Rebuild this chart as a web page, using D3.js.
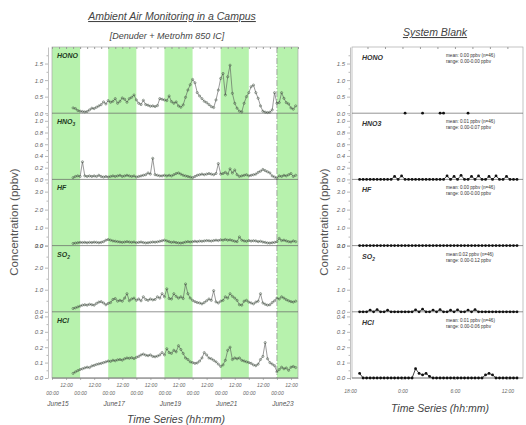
<!DOCTYPE html>
<html>
<head>
<meta charset="utf-8">
<script src="https://cdn.jsdelivr.net/npm/d3@7"></script>
<style>
  body { margin: 0; background: #fff; }
  svg { font-family: 'Liberation Sans', Arial, sans-serif; }
</style>
</head>
<body>
<svg></svg>
<script>
// species shown in the five stacked panels
const speciesAmbLabels = [['HONO', ''], ['HNO', '3'], ['HF', ''], ['SO', '2'], ['HCl', '']];
const speciesBlankLabels = [['HONO', ''], ['HNO3', ''], ['HF', ''], ['SO', '2'], ['HCl', '']];
const yMaxValues = [2.0, 1.13, 3.68, 3.0, 0.43];
const yTickValues = [
	[0, 0.5, 1.0, 1.5],
	[0, 0.2, 0.4, 0.6, 0.8, 1.0],
	[0, 1, 2, 3],
	[0, 1, 2, 3],
	[0, 0.1, 0.2, 0.3, 0.4]
];

// ambient series: June 15 18:00 onward, one value every 2 h (rows = 1 day)
const ambStart = Date.UTC(2014, 5, 15, 18);
const ambStepHours = 2;
const honoAmb = [
	0.16, 0.14, 0.08, 0.06, 0.05, 0.04, 0.05, 0.10, 0.15, 0.14, 0.18, 0.22,
	0.26, 0.34, 0.28, 0.38, 0.33, 0.36, 0.44, 0.30, 0.36, 0.46, 0.42, 0.33,
	0.44, 0.48, 0.55, 0.40, 0.30, 0.26, 0.39, 0.26, 0.24, 0.21, 0.22, 0.20,
	0.23, 0.44, 0.42, 0.40, 0.38, 0.52, 0.35, 0.30, 0.34, 0.22, 0.18, 0.25,
	0.48, 0.70, 0.86, 1.02, 0.92, 0.62, 0.52, 0.44, 0.36, 0.32, 0.26, 0.20,
	0.17, 0.40, 0.70, 1.05, 1.20, 0.55, 1.10, 1.45, 0.60, 0.30, 0.15, 0.06,
	0.04, 0.30, 0.50, 0.62, 0.80, 0.85, 0.62, 0.45, 0.22, 0.06, 0.03, 0.02,
	0.03, 0.10, 0.62, 0.30, 0.32, 0.62, 0.45, 0.32, 0.28, 0.16, 0.12, 0.22
];
const hno3Amb = [
	0.03, 0.05, 0.06, 0.05, 0.30, 0.06, 0.05, 0.06, 0.05, 0.06, 0.05, 0.07,
	0.05, 0.04, 0.05, 0.04, 0.05, 0.06, 0.05, 0.06, 0.07, 0.05, 0.06, 0.07,
	0.06, 0.05, 0.06, 0.04, 0.05, 0.06, 0.07, 0.08, 0.11, 0.09, 0.36, 0.08,
	0.07, 0.06, 0.06, 0.07, 0.06, 0.07, 0.06, 0.08, 0.10, 0.11, 0.09, 0.07,
	0.06, 0.05, 0.04, 0.03, 0.05, 0.07, 0.08, 0.09, 0.08, 0.09, 0.10, 0.09,
	0.08, 0.10, 0.27, 0.09, 0.10, 0.12, 0.09, 0.18, 0.11, 0.16, 0.08, 0.05,
	0.06, 0.07, 0.08, 0.06, 0.07, 0.08, 0.09, 0.12, 0.14, 0.17, 0.15, 0.13,
	0.11, 0.06, 0.04, 0.02, 0.06, 0.05, 0.07, 0.06, 0.08, 0.10, 0.05, 0.07
];
const hfAmb = [
	0.12, 0.14, 0.16, 0.18, 0.17, 0.18, 0.16, 0.18, 0.17, 0.19, 0.18, 0.16,
	0.18, 0.22, 0.30, 0.34, 0.30, 0.26, 0.24, 0.22, 0.20, 0.18, 0.20, 0.22,
	0.20, 0.18, 0.20, 0.16, 0.18, 0.20, 0.17, 0.15, 0.16, 0.18, 0.20, 0.19,
	0.21, 0.24, 0.27, 0.30, 0.26, 0.22, 0.18, 0.20, 0.17, 0.15, 0.14, 0.16,
	0.20, 0.22, 0.20, 0.22, 0.24, 0.22, 0.25, 0.24, 0.26, 0.28, 0.27, 0.25,
	0.28, 0.30, 0.28, 0.32, 0.30, 0.34, 0.30, 0.32, 0.28, 0.24, 0.22, 0.48,
	0.30, 0.26, 0.24, 0.28, 0.25, 0.27, 0.26, 0.22, 0.24, 0.20, 0.18, 0.15,
	0.14, 0.16, 0.18, 0.22, 0.40, 0.28, 0.30, 0.26, 0.22, 0.20, 0.26, 0.22
];
const so2Amb = [
	0.15, 0.18, 0.22, 0.26, 0.30, 0.32, 0.30, 0.34, 0.32, 0.30, 0.38, 0.44,
	0.46, 0.40, 0.32, 0.38, 0.42, 0.56, 0.60, 0.48, 0.52, 0.48, 0.62, 0.82,
	0.50, 0.58, 0.62, 0.52, 0.58, 0.50, 0.68, 0.56, 0.52, 0.58, 0.54, 0.56,
	0.68, 0.62, 0.82, 0.68, 1.04, 0.60, 0.58, 0.82, 0.70, 0.62, 0.68, 0.60,
	1.26, 0.82, 0.62, 0.52, 0.46, 0.42, 0.40, 0.36, 0.42, 0.50, 0.58, 0.52,
	0.96, 0.45, 0.40, 0.48, 0.52, 0.68, 0.62, 0.82, 0.70, 0.62, 0.52, 0.32,
	0.30, 0.48, 0.52, 0.44, 0.40, 0.36, 0.44, 0.48, 0.82, 0.40, 0.34, 0.30,
	0.32, 0.42, 0.50, 0.62, 0.58, 0.68, 0.62, 0.55, 0.50, 0.46, 0.44, 0.48
];
const hclAmb = [
	0.030, 0.040, 0.048, 0.055, 0.060, 0.066, 0.070, 0.068, 0.078, 0.082, 0.088, 0.092,
	0.095, 0.100, 0.105, 0.110, 0.108, 0.115, 0.112, 0.118, 0.120, 0.116, 0.125, 0.130,
	0.128, 0.132, 0.126, 0.134, 0.140, 0.150, 0.155, 0.148, 0.145, 0.150, 0.140, 0.138,
	0.142, 0.150, 0.165, 0.150, 0.190, 0.165, 0.160, 0.180, 0.170, 0.210, 0.185, 0.160,
	0.130, 0.120, 0.105, 0.100, 0.095, 0.098, 0.110, 0.130, 0.165, 0.150, 0.130, 0.125,
	0.115, 0.105, 0.090, 0.075, 0.085, 0.115, 0.180, 0.200, 0.120, 0.130, 0.125, 0.130,
	0.115, 0.110, 0.105, 0.100, 0.095, 0.085, 0.080, 0.090, 0.120, 0.140, 0.230, 0.125,
	0.100, 0.090, 0.080, 0.040, 0.055, 0.070, 0.060, 0.065, 0.050, 0.070, 0.075, 0.068
];

// system blank: 46 samples from 19:06, every 24 min
const blankStartHour = 19.1;
const blankStepHours = 0.4;
const honoBlank = [
	null, null, null, null, null, null, null, null, null, null,
	null, null, null, 0, null, null, null, null, 0, null,
	null, null, null, 0, 0, null, null, null, null, null,
	null, 0, null, null, null, null, null, null, null, null,
	null, null, null, null, null, null
];
const hno3Blank = [
	0, 0, 0, 0, 0, 0, 0, 0, 0, 0,
	0.05, 0, 0.06, 0, 0, 0, 0, 0, 0, 0,
	0, 0, 0, 0, 0, 0.06, 0, 0.05, 0, 0.07,
	0, 0, 0.05, 0, 0.06, 0, 0, 0.05, 0, 0.06,
	0, 0, 0.05, 0, 0, 0
];
const hfBlank = [
	0, 0, 0, 0, 0, 0, 0, 0, 0, 0,
	0, 0, 0, 0, 0, 0, 0, 0, 0, 0,
	0, 0, 0, 0, 0, 0, 0, 0, 0, 0,
	0, 0, 0, 0, 0, 0, 0, 0, 0, 0,
	0, 0, 0, 0, 0, 0
];
const so2Blank = [
	0, 0, 0, 0.08, 0, 0.10, 0, 0, 0.07, 0,
	0, 0, 0, 0, 0, 0, 0.09, 0, 0.12, 0,
	0, 0.08, 0, 0.10, 0, 0, 0.07, 0, 0.09, 0,
	0, 0.08, 0, 0.10, 0, 0, 0, 0, 0, 0,
	0, 0, 0, 0, 0, 0
];
const hclBlank = [
	0.03, 0, 0, 0, 0, 0, 0, 0, 0, 0,
	0, 0, 0, 0, 0, 0, 0.06, 0.03, 0.02, 0.03,
	0.01, 0, 0, 0, 0, 0, 0, 0, 0, 0,
	0, 0, 0, 0, 0, 0, 0.02, 0.03, 0.02, 0,
	0, 0, 0, 0, 0, 0
];
const blankMeans = ['mean: 0.00 ppbv (n=46)', 'mean: 0.01 ppbv (n=46)', 'mean: 0.00 ppbv (n=46)', 'mean:0.02 ppbv (n=46)', 'mean: 0.01 ppbv (n=46)'];
const blankRanges = ['range: 0.00-0.00 ppbv', 'range: 0.00-0.07 ppbv', 'range: 0.00-0.00 ppbv', 'range: 0.00-0.12 ppbv', 'range: 0.00-0.06 ppbv'];

// shaded days, also the dates written under the axis
const greenDays = [15, 17, 19, 21, 23];
const breakDay = 23;
const blankTicks = [18, 24, 30, 36];

const ambSeries = [honoAmb, hno3Amb, hfAmb, so2Amb, hclAmb];
const blankSeries = [honoBlank, hno3Blank, hfBlank, so2Blank, hclBlank];

const width = 526;
const height = 425;
const plotTop = 47;
const plotBottom = 378;
const panelH = (plotBottom - plotTop) / 5;
const ambLeft = 52, ambRight = 298;
const blankLeft = 352, blankRight = 523;
const gray = '#777';

const svg = d3.select('svg')
	.attr('width', width)
	.attr('height', height);

const day = d => new Date(Date.UTC(2014, 5, d));
const xAmb = d3.scaleUtc()
	.domain([day(15), new Date(Date.UTC(2014, 5, 23, 18))])
	.range([ambLeft, ambRight]);
const xBlank = d3.scaleLinear()
	.domain([18, 37.9])
	.range([350, 524]);

const ambData = ambSeries.map(s => s.map((v, i) => ({ t: new Date(ambStart + i * ambStepHours * 3600e3), v })));
const blankData = blankSeries.map(s => s.map((v, i) => ({ t: blankStartHour + i * blankStepHours, v })));

// green day bands
svg.append('g').selectAll('rect').data(greenDays).enter()
	.append('rect')
		.attr('x', d => xAmb(day(d)))
		.attr('y', plotTop)
		.attr('width', d => Math.min(xAmb(day(d + 1)), ambRight) - xAmb(day(d)))
		.attr('height', plotBottom - plotTop)
		.attr('fill', '#b7f2ad');

// frames
svg.append('rect')
	.attr('x', ambLeft).attr('y', plotTop)
	.attr('width', ambRight - ambLeft).attr('height', plotBottom - plotTop)
	.attr('fill', 'none').attr('stroke', '#aaa').attr('stroke-width', 0.7);
svg.append('rect')
	.attr('x', blankLeft).attr('y', plotTop)
	.attr('width', blankRight - blankLeft).attr('height', plotBottom - plotTop)
	.attr('fill', 'none').attr('stroke', '#aaa').attr('stroke-width', 0.7);

// top edge minor ticks
svg.append('g')
	.attr('transform', `translate(0,${plotTop})`)
	.call(d3.axisBottom(xAmb).ticks(d3.utcHour.every(6)).tickSize(2).tickFormat(''))
	.call(g => g.select('.domain').remove())
	.call(g => g.selectAll('line').attr('stroke', '#999'));
svg.append('g')
	.attr('transform', `translate(0,${plotTop})`)
	.call(d3.axisBottom(xBlank).tickValues(d3.range(20, 38, 2)).tickSize(2).tickFormat(''))
	.call(g => g.select('.domain').remove())
	.call(g => g.selectAll('line').attr('stroke', '#999'));

// break line at June 23
svg.append('line')
	.attr('x1', xAmb(day(breakDay))).attr('x2', xAmb(day(breakDay)))
	.attr('y1', plotTop).attr('y2', plotBottom)
	.attr('stroke', '#888').attr('stroke-width', 0.7)
	.attr('stroke-dasharray', '6,2,1,2');

function formula(text, parts) {
	text.append('tspan').text(parts[0]);
	if (parts[1]) text.append('tspan').attr('font-size', '70%').attr('dy', 2).text(parts[1]);
}

function styleAxis(g) {
	g.select('.domain').attr('stroke', '#999').attr('stroke-width', 0.6);
	g.selectAll('line').attr('stroke', '#888').attr('stroke-width', 0.6);
	g.selectAll('text')
		.attr('font-size', 6)
		.attr('font-style', 'italic')
		.attr('fill', '#666')
		.attr('font-family', "'Liberation Sans', Arial, sans-serif");
}

ambData.forEach((series, i) => {
	const top = plotTop + i * panelH;
	const bottom = top + panelH;
	const y = d3.scaleLinear().domain([0, yMaxValues[i]]).range([bottom, top]);
	const step = yTickValues[i][1] - yTickValues[i][0];
	const minor = d3.range(step / 2, yMaxValues[i], step);

	[[48, true], [350, false]].forEach(([ax]) => {
		svg.append('g')
			.attr('transform', `translate(${ax},0)`)
			.call(d3.axisLeft(y).tickValues(yTickValues[i]).tickFormat(d3.format('.1f')).tickSize(3).tickSizeOuter(0).tickPadding(2))
			.call(styleAxis);
		svg.append('g')
			.attr('transform', `translate(${ax},0)`)
			.call(d3.axisLeft(y).tickValues(minor).tickFormat('').tickSize(1.5).tickSizeOuter(0))
			.call(styleAxis)
			.call(g => g.select('.domain').remove());
	});

	// zero lines
	svg.append('line')
		.attr('x1', ambLeft).attr('x2', ambRight)
		.attr('y1', y(0)).attr('y2', y(0))
		.attr('stroke', '#666').attr('stroke-width', 0.7);
	svg.append('line')
		.attr('x1', blankLeft).attr('x2', blankRight)
		.attr('y1', y(0)).attr('y2', y(0))
		.attr('stroke', '#666').attr('stroke-width', 0.7);

	// ambient trace
	const line = d3.line().x(d => xAmb(d.t)).y(d => y(d.v));
	svg.append('path')
		.datum(series)
		.attr('d', line)
		.attr('fill', 'none')
		.attr('stroke', '#555')
		.attr('stroke-width', 0.6);
	svg.append('g').selectAll('circle').data(series).enter()
		.append('circle')
			.attr('cx', d => xAmb(d.t))
			.attr('cy', d => y(d.v))
			.attr('r', 1.1)
			.attr('fill', 'none')
			.attr('stroke', '#3f4f3f')
			.attr('stroke-width', 0.5);

	// blank trace
	const blank = blankData[i];
	const bline = d3.line().defined(d => d.v !== null).x(d => xBlank(d.t)).y(d => y(d.v));
	svg.append('path')
		.datum(blank)
		.attr('d', bline)
		.attr('fill', 'none')
		.attr('stroke', '#111')
		.attr('stroke-width', 0.8);
	svg.append('g').selectAll('circle').data(blank.filter(d => d.v !== null)).enter()
		.append('circle')
			.attr('cx', d => xBlank(d.t))
			.attr('cy', d => y(d.v))
			.attr('r', 1.4)
			.attr('fill', '#111');

	// panel labels
	svg.append('text')
		.attr('x', 57).attr('y', top + 11)
		.attr('font-size', 7).attr('font-weight', 'bold').attr('font-style', 'italic')
		.attr('fill', '#1f3a1f')
		.call(formula, speciesAmbLabels[i]);
	svg.append('text')
		.attr('x', 362).attr('y', top + 13)
		.attr('font-size', 7).attr('font-weight', 'bold').attr('font-style', 'italic')
		.attr('fill', '#333')
		.call(formula, speciesBlankLabels[i]);

	svg.append('text')
		.attr('x', 446).attr('y', top + 10)
		.attr('font-size', 4.6).attr('fill', '#333')
		.text(blankMeans[i]);
	svg.append('text')
		.attr('x', 446).attr('y', top + 16)
		.attr('font-size', 4.6).attr('fill', '#333')
		.text(blankRanges[i]);
});

// ambient x axis: noon labels on one row, midnight labels below
const midnights = d3.utcDay.range(day(15), day(24));
const noons = midnights.map(d => d3.utcHour.offset(d, 12));
svg.append('g')
	.attr('transform', `translate(0,${plotBottom})`)
	.call(d3.axisBottom(xAmb).tickValues(noons).tickFormat(() => '12:00').tickSize(2).tickPadding(3).tickSizeOuter(0))
	.call(styleAxis)
	.call(g => g.selectAll('text').attr('font-size', 5));
svg.append('g')
	.attr('transform', `translate(0,${plotBottom})`)
	.call(d3.axisBottom(xAmb).tickValues(midnights).tickFormat(() => '00:00').tickSize(2).tickPadding(11).tickSizeOuter(0))
	.call(styleAxis)
	.call(g => g.select('.domain').remove())
	.call(g => g.selectAll('text').attr('font-size', 5));

svg.append('g').selectAll('text').data(greenDays).enter()
	.append('text')
		.attr('x', d => xAmb(day(d)) + 6)
		.attr('y', 406)
		.attr('text-anchor', 'middle')
		.attr('font-size', 6.5).attr('font-style', 'italic').attr('fill', '#555')
		.text(d => 'June' + d);

// blank x axis
svg.append('g')
	.attr('transform', `translate(0,${plotBottom})`)
	.call(d3.axisBottom(xBlank).tickValues(blankTicks).tickFormat(h => (h % 24) + ':00').tickSize(2).tickPadding(9).tickSizeOuter(0))
	.call(styleAxis)
	.call(g => g.select('.domain').remove())
	.call(g => g.selectAll('text').attr('font-size', 5));

// titles
const titleText = (x, y, size, txt, underline) => svg.append('text')
	.attr('x', x).attr('y', y)
	.attr('text-anchor', 'middle')
	.attr('font-size', size)
	.attr('font-style', 'italic')
	.attr('fill', '#444')
	.attr('text-decoration', underline ? 'underline' : null)
	.text(txt);

titleText(172, 20, 10.5, 'Ambient Air Monitoring in a Campus', true);
titleText(167, 39, 9, '[Denuder + Metrohm 850 IC]', false);
titleText(435, 36, 10.5, 'System Blank', true);
titleText(176, 423, 10.5, 'Time Series (hh:mm)', false);
titleText(440, 412, 10.5, 'Time Series (hh:mm)', false);

svg.append('text')
	.attr('transform', 'translate(18,222) rotate(-90)')
	.attr('text-anchor', 'middle')
	.attr('font-size', 11.5).attr('fill', '#555')
	.text('Concentration (ppbv)');
svg.append('text')
	.attr('transform', 'translate(328,222) rotate(-90)')
	.attr('text-anchor', 'middle')
	.attr('font-size', 11.5).attr('fill', '#555')
	.text('Concentration (ppbv)');
</script>
</body>
</html>
